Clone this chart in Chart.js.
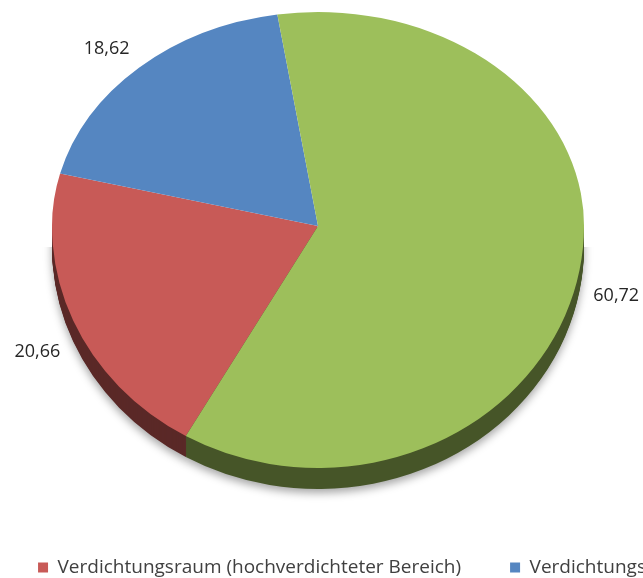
<!DOCTYPE html>
<html><head><meta charset="utf-8">
<script src="https://cdn.jsdelivr.net/npm/chart.js@4.4.1/dist/chart.umd.min.js"></script>
<style>
html,body{margin:0;padding:0;background:#fff;overflow:hidden;width:643px;height:578px}
#clip{position:relative;width:643px;height:578px;overflow:hidden}
#wrap{position:absolute;left:-40px;top:0;width:764px;height:587px}
</style></head>
<body><div id="clip"><div id="wrap"><canvas id="c"></canvas></div></div>
<script>
// ---- data ----
const categories = ["Verdichtungsraum (hochverdichteter Bereich)", "Verdichtungs", "Ländlicher Raum"];
const shares = [20.66, 18.62, 60.72];
const valueLabels = ["20,66", "18,62", "60,72"];
const sliceColors = ["#C85A57", "#5586C1", "#9DBF5B"];

// ---- 3D look (styling, canvas coordinates; canvas is shifted 40px left) ----
const VIEW = {x0: 358, y0: 226, rx: 266, ryTop: 214, ryBot: 242, depth: 21, offX: 14, offY: 26};

const pie3d = {
  id: 'pie3d',
  beforeDatasetsDraw(chart) {
    const ctx = chart.ctx;
    const arcs = chart.getDatasetMeta(0).data;
    if (!arcs.length) return false;
    const cx = arcs[0].x, cy = arcs[0].y, r = arcs[0].outerRadius;
    const W = chart.width, H = chart.height;
    const sx = VIEW.rx / r;
    const drawAll = (clipY0, clipY1, ty, ry, filter, shadow) => {
      ctx.save();
      ctx.beginPath(); ctx.rect(0, clipY0, W, clipY1 - clipY0); ctx.clip();
      if (filter) ctx.filter = filter;
      if (shadow) { ctx.shadowColor = 'rgba(0,0,0,0.35)'; ctx.shadowBlur = 9; ctx.shadowOffsetY = 4; }
      ctx.translate(VIEW.x0, ty);
      ctx.scale(sx, ry / r);
      ctx.translate(-cx, -cy);
      arcs.forEach(a => a.draw(ctx));
      ctx.restore();
    };
    for (let d = VIEW.depth; d >= 1; d--) {
      drawAll(VIEW.y0 + d, H, VIEW.y0 + d, VIEW.ryBot, 'brightness(0.45)', d === VIEW.depth);
    }
    drawAll(0, VIEW.y0, VIEW.y0, VIEW.ryTop, null, false);
    drawAll(VIEW.y0, H, VIEW.y0, VIEW.ryBot, null, false);
    return false;
  },
  afterDraw(chart) {
    const ctx = chart.ctx;
    const arcs = chart.getDatasetMeta(0).data;
    ctx.save();
    ctx.font = '18px "Open Sans"';
    ctx.fillStyle = '#262626';
    ctx.textBaseline = 'middle';
    arcs.forEach((a, i) => {
      const mid = (a.startAngle + a.endAngle) / 2;
      const c = Math.cos(mid), s = Math.sin(mid);
      const ry = s < 0 ? VIEW.ryTop : VIEW.ryBot;
      const x = VIEW.x0 + (VIEW.rx + VIEW.offX) * c;
      const y = VIEW.y0 + (ry + VIEW.offY) * s + (s > 0 ? VIEW.depth : 0);
      ctx.textAlign = c > 0.25 ? 'left' : (c < -0.25 ? 'right' : 'center');
      ctx.fillText(valueLabels[i], x, y);
    });
    ctx.restore();
  }
};

new Chart(document.getElementById('c'), {
  type: 'pie',
  data: {
    labels: categories,
    datasets: [{ data: shares, backgroundColor: sliceColors, borderWidth: 0 }]
  },
  options: {
    responsive: true,
    maintainAspectRatio: false,
    animation: false,
    rotation: 209.8,
    layout: { padding: 0 },
    plugins: {
      tooltip: { enabled: false },
      legend: {
        position: 'bottom',
        labels: {
          font: { family: '"Open Sans"', size: 19 },
          color: '#404040',
          boxWidth: 10,
          boxHeight: 10,
          padding: 49,
          filter: item => item.index < 2
        }
      }
    }
  },
  plugins: [pie3d]
});
</script>
</body></html>
